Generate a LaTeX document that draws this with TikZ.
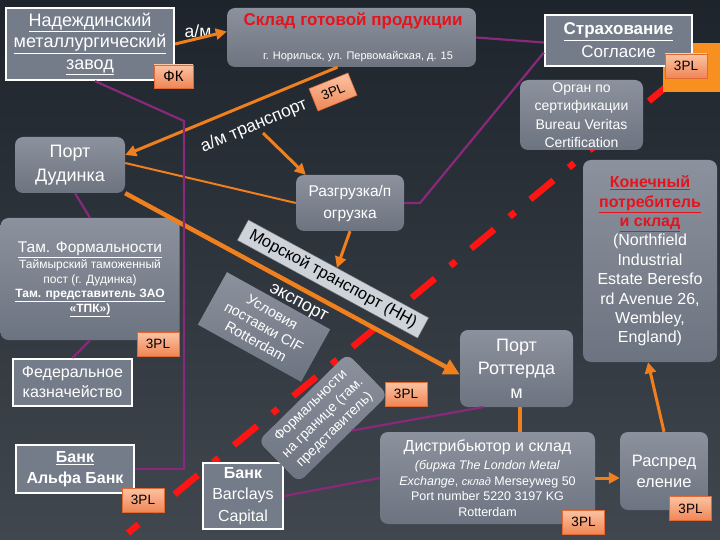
\documentclass[tikz,border=0pt]{standalone}
\usepackage{fontspec}
\setmainfont{Liberation Sans}
\usetikzlibrary{arrows.meta,backgrounds}
\definecolor{bgtop}{HTML}{1E242C}
\definecolor{bgbot}{HTML}{41474F}
\definecolor{boxtop}{HTML}{8B929D}
\definecolor{boxbot}{HTML}{6D7481}
\definecolor{framefill}{HTML}{747C89}
\definecolor{tpltop}{HTML}{FCC3A4}
\definecolor{tplbot}{HTML}{EF8655}
\definecolor{tplline}{HTML}{E26A32}
\definecolor{haulorange}{HTML}{F07F1E}
\definecolor{blockorange}{HTML}{F7901E}
\definecolor{linkpurple}{HTML}{88297A}
\definecolor{routered}{HTML}{FF1414}
\definecolor{titlered}{HTML}{E3141E}
\definecolor{tapegray}{HTML}{CED3DA}
\newcommand{\setfs}[2]{\fontsize{#1}{#2}\selectfont}

\begin{document}
\begin{tikzpicture}[x=1pt,y=-1pt,
    >={Triangle[length=11pt,width=11pt]},
    graybox/.style={rounded corners=8pt,top color=boxtop,bottom color=boxbot,text=white,align=center,inner sep=0pt},
    framebox/.style={draw=white,line width=2.2pt,fill=framefill,text=white,align=center,inner sep=0pt},
    tplbox/.style={draw=tplline,line width=0.6pt,top color=tpltop,bottom color=tplbot,text=black,font=\setfs{13.5}{16},minimum width=42pt,minimum height=24pt,inner sep=0pt},
    haul/.style={draw=haulorange,line width=3pt},
    link/.style={draw=linkpurple,line width=2.2pt}]
  \useasboundingbox (0,0) rectangle (720,540);
%   top row
  \node[framebox,minimum width=168pt,minimum height=72pt,font=\setfs{18}{21.5}] (nadezh) at (90,44) {\underline{Надеждинский}\\\underline{металлургический}\\\underline{завод}};
  \node[text=white,font=\setfs{17.5}{20}] (amtop) at (198,31) {а/м};
  \node[tplbox,minimum width=39pt,minimum height=23pt,font=\setfs{15}{18}] (fk) at (173.5,76.5) {ФК};
  \node[graybox,minimum width=249pt,minimum height=59pt] (sklad) at (351.5,37.5) {};
  \node[text=titlered,font=\setfs{17}{20}\bfseries] (skladname) at (353,21) {Склад готовой продукции};
  \node[text=white,font=\setfs{11}{13}] (skladaddr) at (358,57) {г. Норильск, ул. Первомайская, д. 15};
  \node[framebox,minimum width=147pt,minimum height=51pt,font=\setfs{17}{23}] (strah) at (618.5,40.5) {\textbf{\underline{Страхование}}\\Согласие};
  \node[tplbox] (tplstrah) at (686,66) {3PL};
  \node[graybox,minimum width=123pt,minimum height=70pt,font=\setfs{14}{18.5}] (organ) at (581.5,115) {Орган по\\сертификации\\Bureau Veritas\\Certification};
%   left column
  \node[graybox,minimum width=110pt,minimum height=56pt,font=\setfs{18}{24}] (dudinka) at (70,165) {Порт\\Дудинка};
  \node[graybox,minimum width=179pt,minimum height=122pt,font=\setfs{12}{14.5}] (tamform) at (90,279) {{\setfs{15.5}{18}\underline{Там. Формальности}}\\[2pt]Таймырский таможенный\\пост (г. Дудинка)\\\textbf{\underline{Там. представитель ЗАО}}\\\textbf{\underline{«ТПК»)}}};
  \node[tplbox] (tpltam) at (158,344) {3PL};
  \node[framebox,minimum width=119pt,minimum height=47pt,font=\setfs{16}{20}] (federal) at (72.5,382.5) {Федеральное\\казначейство};
  \node[framebox,minimum width=118pt,minimum height=48pt,font=\setfs{16}{21}\bfseries] (alfa) at (75,469) {\underline{Банк}\\Альфа Банк};
  \node[tplbox] (tplalfa) at (143,500) {3PL};
%   middle
  \node[framebox,minimum width=80pt,minimum height=66pt,font=\setfs{16}{21.5}] (barclays) at (243,496) {\textbf{Банк}\\Barclays\\Capital};
  \node[text=white,rotate=23,font=\setfs{17.5}{20}] (amtrans) at (254,126) {а/м транспорт};
  \node[tplbox,rotate=22] (tplsklad) at (333,92) {3PL};
  \node[graybox,minimum width=108pt,minimum height=56pt,font=\setfs{15.5}{22}] (razgr) at (350,203) {Разгрузка/п\\огрузка};
  \node[rotate=-28.5,fill=tapegray,draw=gray,line width=0.4pt,minimum width=205pt,minimum height=23pt,inner sep=0pt,font=\setfs{16.5}{18}] (morskoy) at (333,279) {Морской транспорт (НН)};
  \node[rotate=-28.5,text=white,font=\setfs{18}{20}] (eksport) at (298,304) {экспорт};
  \node[rotate=-29,top color=boxtop,bottom color=boxbot,text=white,align=center,minimum width=118pt,minimum height=60pt,inner sep=0pt,font=\setfs{14.5}{17}] (usloviya) at (264,327) {Условия\\поставки CIF\\Rotterdam};
  \node[graybox,rotate=44.5,minimum width=125pt,minimum height=58pt,font=\setfs{14}{17}] (granica) at (323,418) {Формальности\\на границе (там.\\представитель)};
  \node[tplbox] (tplgranica) at (406,394) {3PL};
%   right column
  \node[graybox,minimum width=134pt,minimum height=202pt,font=\setfs{16}{19.4}] (kone) at (650,261) {\textcolor{titlered}{\textbf{\underline{Конечный}}}\\\textcolor{titlered}{\textbf{\underline{потребитель}}}\\\textcolor{titlered}{\textbf{\underline{и склад}}}\\(Northfield\\Industrial\\Estate Beresfo\\rd Avenue 26,\\Wembley,\\England)};
  \node[graybox,minimum width=113pt,minimum height=77pt,font=\setfs{18}{23.5}] (rotterdam) at (516.5,368.5) {Порт\\Роттерда\\м};
  \node[graybox,minimum width=215pt,minimum height=92pt,font=\setfs{12.5}{15.5}] (distrib) at (487.5,478) {{\setfs{16}{19}Дистрибьютор и склад}\\[3pt]\textit{(биржа The London Metal}\\\textit{Exchange}, {\itshape\setfs{11}{14}склад} Merseyweg 50\\Port number 5220 3197 KG\\Rotterdam};
  \node[tplbox] (tpldistrib) at (583.5,522) {3PL};
  \node[graybox,minimum width=88pt,minimum height=78pt,font=\setfs{16.5}{21}] (raspr) at (664,471) {Распред\\еление};
  \node[tplbox] (tplraspr) at (690.5,508.5) {3PL};
%   haulage
  \draw[haul,->] (nadezh.east) -- ([yshift=6pt]sklad.west);
  \draw[haul,->] ([xshift=-14pt]sklad.south) -- ([yshift=10pt]dudinka.east);
  \coordinate (unload) at (263,133);
  \draw[haul,->] (unload) -- ([xshift=10pt]razgr.north west);
  \draw[haul,line width=2pt] ([yshift=2pt]dudinka.east) -- (razgr.west);
  \draw[haul,line width=4.5pt,-{Triangle[length=16pt,width=16pt]}] (dudinka.south east) -- ([yshift=-6pt]rotterdam.west);
  \draw[haul,->] (razgr.south) -- (morskoy);
  \draw[haul,line width=4pt] ([xshift=3pt]rotterdam.south) -- ([xshift=3pt]rotterdam.south |- distrib.north);
  \draw[haul,->] (distrib.east) -- (distrib.east -| raspr.west);
  \draw[haul,->] (raspr.north) -- ([xshift=-2pt]kone.south);
%   links
  \coordinate (bend) at (184,121);
  \draw[link] ([xshift=5pt]nadezh.south) -- (bend) -- (bend |- alfa.east) -- (alfa.east);
  \draw[link] ([xshift=5pt]dudinka.south) -- (tamform.north);
  \draw[link] (tamform.south) -- (federal.north);
  \draw[link] (sklad.east) -- ([yshift=-2pt]strah.west);
  \coordinate (turn) at (420,203);
  \draw[link] ([yshift=-12pt]strah.west) -- (turn) -- (razgr.east);
  \draw[link] (granica.-68) -- ([xshift=23pt]rotterdam.south west);
  \draw[link] (barclays.east) -- (distrib.west);
%   background
  \begin{scope}[on background layer]
    \shade[top color=bgtop,bottom color=bgbot] (0,0) rectangle (720,540);
    \draw[routered,line width=6.5pt,dash pattern=on 30pt off 20pt on 7pt off 20pt] (672,82) -- (128,533);
    \fill[blockorange] (663,43) rectangle (720,92);
  \end{scope}
\end{tikzpicture}
\end{document}
